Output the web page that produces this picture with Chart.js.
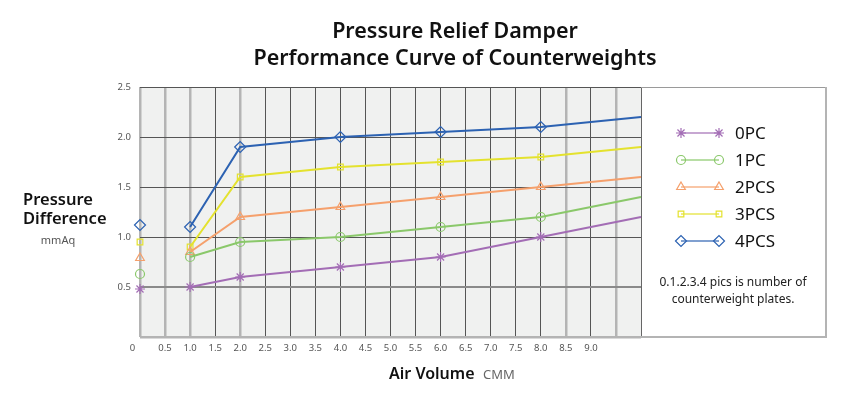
<!DOCTYPE html>
<html>
<head>
<meta charset="utf-8">
<script src="https://cdn.jsdelivr.net/npm/chart.js@4/dist/chart.umd.min.js"></script>
<style>
  html, body { margin: 0; padding: 0; background: #fff; }
  #wrap { width: 850px; height: 397px; position: relative; }
</style>
</head>
<body>
<div id="wrap"><canvas id="grafic"></canvas></div>
<script>
// Dades llegides de la figura
const airVolume = [0, 1, 2, 4, 6, 8, 10];
const pc0  = [0.48, 0.5, 0.6, 0.7, 0.8, 1.0, 1.2];
const pc1  = [0.63, 0.8, 0.95, 1.0, 1.1, 1.2, 1.4];
const pcs2 = [0.79, 0.85, 1.2, 1.3, 1.4, 1.5, 1.6];
const pcs3 = [0.95, 0.9, 1.6, 1.7, 1.75, 1.8, 1.9];
const pcs4 = [1.12, 1.1, 1.9, 2.0, 2.05, 2.1, 2.2];

const seriesNames = ['0PC', '1PC', '2PCS', '3PCS', '4PCS'];
const seriesValues = [pc0, pc1, pcs2, pcs3, pcs4];
const colors = ['#a36db5', '#8ac86a', '#f5a06c', '#e4e22e', '#2c62b2'];
const markers = ['star', 'circle', 'triangle', 'rect', 'rectRot'];
const markerSizes = [5, 4.5, 5, 4, 5.5];

const xTicksThick = [0, 0.5, 1, 2, 8.5, 9.5];

const datasets = seriesValues.map((vals, i) => ({
    label: seriesNames[i],
    data: airVolume.map((x, j) => ({ x: x, y: vals[j] })),
    borderColor: colors[i],
    backgroundColor: 'rgba(0,0,0,0)',
    borderWidth: 2,
    pointStyle: markers[i],
    pointRadius: airVolume.map((x, j) => j === airVolume.length - 1 ? 0 : markerSizes[i]),
    pointBorderWidth: 1.2,
    pointBorderColor: colors[i],
    pointBackgroundColor: 'rgba(0,0,0,0)',
    tension: 0,
    clip: false,
    // el primer punt (x=0) només és marcador, sense línia
    segment: { borderColor: ctx => ctx.p0DataIndex === 0 ? 'rgba(0,0,0,0)' : undefined }
}));

// fons del gràfic, títols i llegenda dibuixats a mà
const decoracio = {
    id: 'decoracio',
    beforeDraw(chart) {
        const { ctx, chartArea: a } = chart;
        ctx.save();
        ctx.fillStyle = '#f0f1f0';
        ctx.fillRect(a.left, a.top, a.right - a.left, a.bottom - a.top);
        ctx.restore();
    },
    afterDraw(chart) {
        const { ctx, chartArea: a } = chart;
        ctx.save();
        ctx.fillStyle = '#111';
        ctx.textAlign = 'center';
        ctx.textBaseline = 'alphabetic';
        ctx.font = '600 21.5px "Noto Sans"';
        ctx.fillText('Pressure Relief Damper', 455, 38);
        ctx.fillText('Performance Curve of Counterweights', 455, 65);

        // títol eix Y
        ctx.textAlign = 'left';
        ctx.font = '600 16.5px "Noto Sans"';
        ctx.fillText('Pressure', 23, 205);
        ctx.fillText('Difference', 23, 224);
        ctx.textAlign = 'center';
        ctx.font = '11px "Noto Sans"';
        ctx.fillStyle = '#555';
        ctx.fillText('mmAq', 58, 244);

        // títol eix X
        ctx.textAlign = 'left';
        ctx.fillStyle = '#111';
        ctx.font = '600 16px "Noto Sans"';
        ctx.fillText('Air Volume', 389, 379);
        ctx.fillStyle = '#666';
        ctx.font = '13px "Noto Sans"';
        ctx.fillText('CMM', 483, 379);

        // caixa de la llegenda
        const bx = a.right + 2, bx2 = 826;
        ctx.fillStyle = '#fff';
        ctx.fillRect(bx, a.top, bx2 - bx, a.bottom - a.top);
        ctx.strokeStyle = '#9a9a9a';
        ctx.lineWidth = 1;
        ctx.beginPath();
        ctx.moveTo(a.right, a.top + 0.5); ctx.lineTo(bx2, a.top + 0.5);
        ctx.stroke();
        ctx.strokeStyle = '#b4b4b4';
        ctx.lineWidth = 2;
        ctx.beginPath();
        ctx.moveTo(bx2, a.top); ctx.lineTo(bx2, a.bottom + 1);
        ctx.moveTo(a.right, a.bottom); ctx.lineTo(bx2, a.bottom);
        ctx.stroke();

        // elements de la llegenda
        chart.data.datasets.forEach((ds, i) => {
            const y = 133 + i * 27;
            const x1 = 681, x2 = 719;
            ctx.strokeStyle = ds.borderColor;
            ctx.globalAlpha = 0.8;
            ctx.lineWidth = 1.5;
            ctx.beginPath();
            ctx.moveTo(x1, y); ctx.lineTo(x2, y);
            ctx.stroke();
            ctx.globalAlpha = 1;
            ctx.fillStyle = 'rgba(0,0,0,0)';
            ctx.lineWidth = 1.2;
            const opts = { pointStyle: ds.pointStyle, radius: markerSizes[i], rotation: 0, borderWidth: 1.2 };
            Chart.helpers.drawPoint(ctx, opts, x1, y);
            Chart.helpers.drawPoint(ctx, opts, x2, y);
            ctx.fillStyle = '#111';
            ctx.textAlign = 'left';
            ctx.textBaseline = 'middle';
            ctx.font = '17px "Noto Sans"';
            ctx.fillText(ds.label, 735, y + 1);
        });

        ctx.textAlign = 'center';
        ctx.textBaseline = 'middle';
        ctx.fillStyle = '#222';
        ctx.font = '12px "Noto Sans"';
        ctx.fillText('0.1.2.3.4 pics is number of', 733, 283);
        ctx.fillText('counterweight plates.', 733, 300);
        ctx.restore();
    }
};

new Chart(document.getElementById('grafic'), {
    type: 'line',
    data: { datasets: datasets },
    plugins: [decoracio],
    options: {
        responsive: true,
        maintainAspectRatio: false,
        animation: false,
        layout: { padding: { left: 117, right: 209, top: 87, bottom: 40 } },
        plugins: { legend: { display: false }, tooltip: { enabled: false } },
        scales: {
            x: {
                type: 'linear', min: 0, max: 10,
                border: { display: false },
                afterFit: s => { s.height = 20; },
                grid: {
                    drawTicks: false,
                    color: c => xTicksThick.includes(c.tick.value) ? '#b4b4b4' : (c.tick.value === 10 ? '#666' : '#555'),
                    lineWidth: c => xTicksThick.includes(c.tick.value) ? 2.5 : 1
                },
                ticks: {
                    stepSize: 0.5, padding: 6, color: '#555', maxRotation: 0, autoSkip: false,
                    font: { family: 'Noto Sans', size: 9.5 },
                    callback: v => v === 0 ? '0      ' : (v > 9 ? '' : v.toFixed(1))
                }
            },
            y: {
                type: 'linear', min: 0, max: 2.5,
                border: { display: false },
                afterFit: s => { s.width = 23; },
                grid: {
                    drawTicks: false,
                    color: c => c.tick.value === 0 ? '#b4b4b4' : (c.tick.value === 0.5 ? '#8a8a8a' : '#555'),
                    lineWidth: c => c.tick.value === 0 ? 2.5 : (c.tick.value === 0.5 ? 2 : 1)
                },
                ticks: {
                    stepSize: 0.5, padding: 9, color: '#555',
                    font: { family: 'Noto Sans', size: 9.5 },
                    callback: v => v === 0 ? '' : v.toFixed(1)
                }
            }
        }
    }
});
</script>
</body>
</html>
